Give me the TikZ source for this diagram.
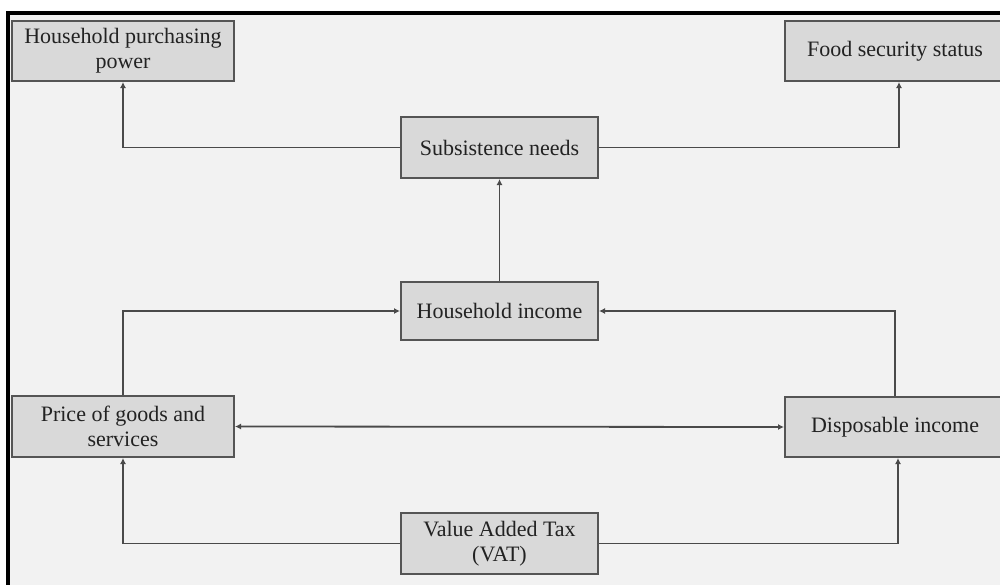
\documentclass[tikz,border=0pt]{standalone}
\usepackage{fontspec}
\setmainfont{Liberation Serif}
\usetikzlibrary{arrows.meta}
\definecolor{bgc}{HTML}{F2F2F2}
\definecolor{boxc}{HTML}{D9D9D9}
\definecolor{edgec}{HTML}{555555}
\definecolor{linec}{HTML}{4A4A4A}
\definecolor{txtc}{HTML}{222222}
\begin{document}
\begin{tikzpicture}[x=1pt,y=-1pt,
  box/.style={draw=edgec,line width=2pt,fill=boxc,rectangle,align=center,
    inner sep=0pt,text=txtc,font=\fontsize{22}{25}\selectfont},
  arr/.style={draw=linec,line width=1.8pt,-{Latex[length=6pt,width=6pt]}},
  arrboth/.style={draw=linec,line width=1.8pt,{Latex[length=6pt,width=6pt]}-{Latex[length=6pt,width=6pt]}}]
\useasboundingbox (0,0) rectangle (1000,584);
\clip (0,0) rectangle (1000,584);
\fill[white] (0,0) rectangle (1000,584);
\fill[bgc] (7,12) rectangle (1010,590);
\draw[black,line width=4pt] (7.5,600) -- (7.5,13) -- (1010,13);
\node[box,minimum width=222,minimum height=60] (hpp) at (123,51) {Household purchasing\\power};
\node[box,minimum width=220,minimum height=60] (fss) at (895,51) {Food security status};
\node[box,minimum width=197,minimum height=61] (sub) at (499.5,147.5) {Subsistence needs};
\node[box,minimum width=197,minimum height=58] (hi) at (499.5,311) {Household income};
\node[box,minimum width=222,minimum height=61] (price) at (123,426.5) {Price of goods and\\services};
\node[box,minimum width=220,minimum height=60] (disp) at (895,427) {Disposable income};
\node[box,minimum width=197,minimum height=61] (vat) at (499.5,543.5) {Value Added Tax\\(VAT)};
\draw[arr] (sub.west) -| (hpp.south);
\draw[arr] (sub.east) -| ([xshift=4]fss.south);
\draw[arr] (hi.north) -- (sub.south);
\draw[arr] (price.north) |- (hi.west);
\draw[arr] (disp.north) |- (hi.east);
\draw[arrboth] (price.east) -- (disp.west);
\draw[arr] (vat.west) -| (price.south);
\draw[arr] (vat.east) -| ([xshift=3]disp.south);
\end{tikzpicture}
\end{document}
